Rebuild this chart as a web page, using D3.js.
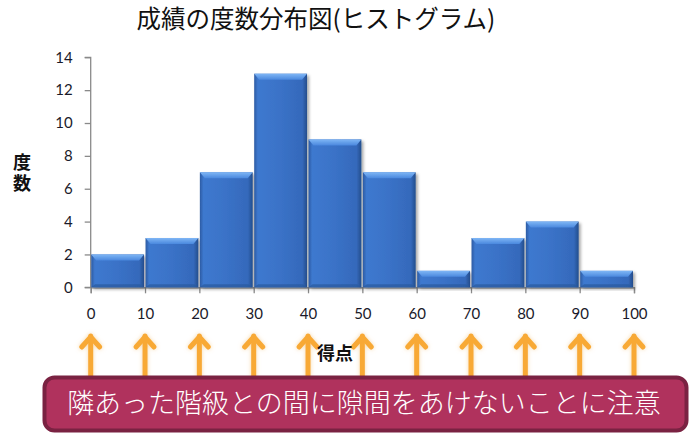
<!DOCTYPE html>
<html lang="ja">
<head>
    <meta charset="UTF-8">
    <script src="https://cdn.jsdelivr.net/npm/d3@7"></script>
    <style>
        body { margin: 0; background: #fff; }
        svg { display: block; }
        .tick text { font-family: Lato, "Open Sans", sans-serif; font-size: 15px; fill: #1a1a2a; }
    </style>
</head>
<body>
<svg width="694" height="440"></svg>
<script>
    // 階級の下限と度数
    var binStarts = [0, 10, 20, 30, 40, 50, 60, 70, 80, 90];
    var counts = [2, 3, 7, 13, 9, 7, 1, 3, 4, 1];
    var xTicks = [0, 10, 20, 30, 40, 50, 60, 70, 80, 90, 100];
    var yTicks = [0, 2, 4, 6, 8, 10, 12, 14];
    var binWidth = 10;

    var svg = d3.select("svg");
    var x = d3.scaleLinear().domain([0, 100]).range([90.7, 634]);
    var y = d3.scaleLinear().domain([0, 14]).range([287.3, 57.3]);

    var defs = svg.append("defs");
    var side = defs.append("linearGradient").attr("id", "side");
    side.append("stop").attr("offset", "0%").attr("stop-color", "#2c5ba3");
    side.append("stop").attr("offset", "7%").attr("stop-color", "#3e79cf");
    side.append("stop").attr("offset", "50%").attr("stop-color", "#3a72c7");
    side.append("stop").attr("offset", "91%").attr("stop-color", "#3569bb");
    side.append("stop").attr("offset", "100%").attr("stop-color", "#234d8c");
    var bevel = defs.append("linearGradient").attr("id", "topbev")
        .attr("x1", 0).attr("y1", 0).attr("x2", 0).attr("y2", 1);
    bevel.append("stop").attr("offset", "0%").attr("stop-color", "#7fb6f5");
    bevel.append("stop").attr("offset", "100%").attr("stop-color", "#4a88de");
    var shadow = defs.append("filter").attr("id", "shadow")
        .attr("x", "-20%").attr("y", "-20%").attr("width", "140%").attr("height", "140%");
    shadow.append("feDropShadow").attr("dx", 2).attr("dy", 2).attr("stdDeviation", 1.5)
        .attr("flood-color", "#000").attr("flood-opacity", 0.35);
    var glow = defs.append("filter").attr("id", "glow")
        .attr("x", "-50%").attr("y", "-20%").attr("width", "200%").attr("height", "140%");
    glow.append("feDropShadow").attr("dx", 0).attr("dy", 0).attr("stdDeviation", 2)
        .attr("flood-color", "#f0c070").attr("flood-opacity", 0.6);

    // タイトル
    svg.append("text")
        .attr("x", 316).attr("y", 28)
        .attr("text-anchor", "middle")
        .style("font-family", "'Noto Sans CJK JP'")
        .style("font-size", "24.5px")
        .style("fill", "#111")
        .text("成績の度数分布図(ヒストグラム)");

    // 軸
    var yAxis = d3.axisLeft(y).tickValues(yTicks).tickSize(6).tickPadding(12);
    var gy = svg.append("g").attr("transform", "translate(" + x(0) + ",0)").call(yAxis);
    var xAxis = d3.axisBottom(x).tickValues(xTicks).tickSize(6).tickPadding(12);
    var gx = svg.append("g").attr("transform", "translate(0," + y(0) + ")").call(xAxis);
    svg.selectAll(".domain").attr("stroke", "#8a8a8a").attr("stroke-width", 1.3);
    svg.selectAll(".tick line").attr("stroke", "#8a8a8a").attr("stroke-width", 1.3);
    gy.selectAll(".domain").attr("d", "M-6," + y(14) + "H0V" + y(0) + "H-6");
    gx.selectAll(".tick text").attr("dy", "0.9em");

    // 棒
    var bars = svg.append("g").selectAll("g")
        .data(binStarts)
        .enter()
        .append("g")
        .attr("filter", "url(#shadow)");
    bars.append("rect")
        .attr("x", function (d) { return x(d) + 0.5; })
        .attr("y", function (d, i) { return y(counts[i]); })
        .attr("width", function (d) { return x(d + binWidth) - x(d) - 1.5; })
        .attr("height", function (d, i) { return y(0) - y(counts[i]); })
        .attr("fill", "url(#side)");
    bars.append("path")
        .attr("fill", "url(#topbev)")
        .attr("d", function (d, i) {
            var x0 = x(d) + 0.5, x1 = x(d + binWidth) - 1, t = y(counts[i]);
            return "M" + x0 + "," + t + "H" + x1 + "L" + (x1 - 5) + "," + (t + 6) +
                "H" + (x0 + 5) + "Z";
        });
    bars.append("path")
        .attr("fill", "#2a5a9e")
        .attr("opacity", 0.7)
        .attr("d", function (d) {
            var x0 = x(d) + 0.5, x1 = x(d + binWidth) - 1, b = y(0);
            return "M" + x0 + "," + b + "H" + x1 + "L" + (x1 - 4) + "," + (b - 3) +
                "H" + (x0 + 4) + "Z";
        });

    // 軸ラベル（縦書き）
    svg.append("text")
        .attr("x", 22).attr("y", 153)
        .style("writing-mode", "vertical-rl")
        .style("font-family", "'Noto Sans CJK JP'")
        .style("font-size", "18px")
        .style("font-weight", "bold")
        .style("letter-spacing", "3px")
        .style("fill", "#111")
        .text("度数");

    // 矢印
    var arrows = svg.append("g").selectAll("g")
        .data(xTicks)
        .enter()
        .append("g")
        .attr("filter", "url(#glow)")
        .attr("stroke", "#f8a935")
        .attr("stroke-width", 5)
        .attr("stroke-linecap", "round")
        .attr("stroke-linejoin", "round")
        .attr("fill", "none");
    arrows.append("line")
        .attr("x1", function (d) { return x(d); })
        .attr("x2", function (d) { return x(d); })
        .attr("y1", 336).attr("y2", 385);
    arrows.append("path")
        .attr("d", function (d) {
            return "M" + (x(d) - 9) + ",347L" + x(d) + ",337L" + (x(d) + 9) + ",347";
        });

    svg.append("text")
        .attr("x", 335).attr("y", 360)
        .attr("text-anchor", "middle")
        .style("font-family", "'Noto Sans CJK JP'")
        .style("font-size", "18px")
        .style("font-weight", "bold")
        .style("fill", "#111")
        .text("得点");

    // 注意ボックス
    svg.append("rect")
        .attr("x", 44.5).attr("y", 377.5)
        .attr("width", 642).attr("height", 53)
        .attr("rx", 10).attr("ry", 10)
        .attr("fill", "#b0325d")
        .attr("stroke", "#7a2242")
        .attr("stroke-width", 4);
    svg.append("text")
        .attr("x", 364).attr("y", 413)
        .attr("text-anchor", "middle")
        .style("font-family", "'Noto Sans CJK JP'")
        .style("font-size", "27px")
        .style("font-weight", 300)
        .style("fill", "#fff")
        .text("隣あった階級との間に隙間をあけないことに注意");
</script>
</body>
</html>
